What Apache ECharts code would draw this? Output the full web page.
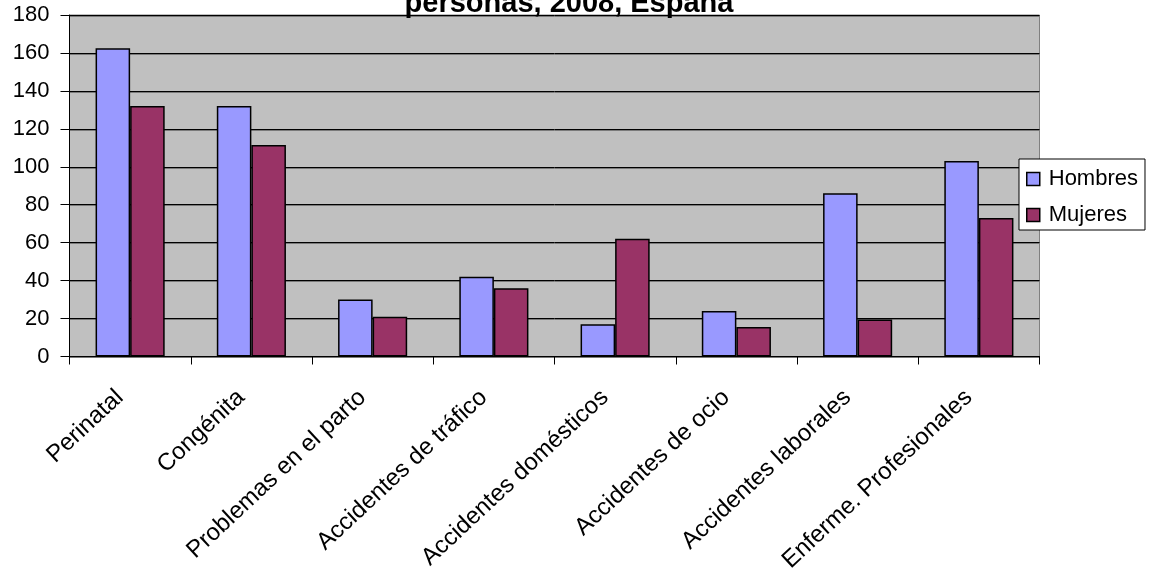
<!DOCTYPE html>
<html>
<head>
<meta charset="utf-8">
<script src="https://cdn.jsdelivr.net/npm/echarts@6/dist/echarts.min.js"></script>
<style>
  html, body { margin: 0; padding: 0; background: #ffffff; }
  #chart { width: 1154px; height: 575px; }
</style>
</head>
<body>
<div id="chart"></div>
<script>
// Causes of disability, per 1000 persons, Spain 2008
const categories = [
  'Perinatal',
  'Congénita',
  'Problemas en el parto',
  'Accidentes de tráfico',
  'Accidentes domésticos',
  'Accidentes de ocio',
  'Accidentes laborales',
  'Enferme. Profesionales'
];
const hombres = [162.5, 132, 30, 42, 17, 24, 86, 103];
const mujeres = [132, 111.5, 21, 36, 62, 15.5, 19.5, 73];
const yTicks = { min: 0, max: 180, interval: 20 };

const font = 'Liberation Sans, Arial, sans-serif';
const barBorder = { borderColor: '#000000', borderWidth: 1.5 };

const chart = echarts.init(document.getElementById('chart'), null, { renderer: 'canvas' });
chart.setOption({
  animation: false,
  backgroundColor: '#ffffff',
  title: {
    text: 'personas, 2008, España',
    left: 569,
    textAlign: 'center',
    top: -11,
    padding: 0,
    textStyle: { fontFamily: font, fontSize: 29, fontWeight: 'bold', color: '#000000' }
  },
  grid: {
    left: 69.5, right: 114.5, top: 15, bottom: 218,
    show: true,
    backgroundColor: '#c0c0c0',
    borderColor: '#808080',
    borderWidth: 1
  },
  legend: {
    orient: 'vertical',
    left: 1019, top: 159,
    padding: [9, 7, 4, 7],
    itemWidth: 13, itemHeight: 13,
    itemGap: 14,
    backgroundColor: '#ffffff',
    borderColor: '#000000',
    borderWidth: 1,
    borderRadius: 0,
    icon: 'rect',
    itemStyle: { borderColor: '#000000', borderWidth: 1.5 },
    textStyle: { fontFamily: font, fontSize: 22, color: '#000000', padding: [0, 0, 0, 4], lineHeight: 22 },
    data: ['Hombres', 'Mujeres']
  },
  xAxis: {
    type: 'category',
    data: categories,
    axisLine: { show: true, lineStyle: { color: '#000000', width: 1 } },
    axisTick: { show: true, length: 8, inside: false, alignWithLabel: false, lineStyle: { color: '#000000' } },
    axisLabel: {
      interval: 0,
      rotate: 43,
      margin: 28,
      padding: [0, 14, 0, 0],
      fontFamily: font,
      fontSize: 24,
      color: '#000000'
    },
    splitLine: { show: false }
  },
  yAxis: {
    type: 'value',
    min: yTicks.min,
    max: yTicks.max,
    interval: yTicks.interval,
    axisLine: { show: true, lineStyle: { color: '#000000', width: 1 } },
    axisTick: { show: true, length: 9, lineStyle: { color: '#000000' } },
    axisLabel: { fontFamily: font, fontSize: 22, color: '#000000', margin: 20, padding: [5, 0, 0, 0] },
    splitLine: {
      show: true,
      lineStyle: { color: '#000000', width: 1, shadowColor: '#7a7a7a', shadowOffsetY: 1, shadowBlur: 0 }
    }
  },
  series: [
    {
      name: 'Hombres',
      type: 'bar',
      data: hombres,
      barGap: '0%',
      barCategoryGap: '43%',
      itemStyle: Object.assign({ color: '#9999ff' }, barBorder)
    },
    {
      name: 'Mujeres',
      type: 'bar',
      data: mujeres,
      barGap: '0%',
      barCategoryGap: '43%',
      itemStyle: Object.assign({ color: '#993366' }, barBorder)
    }
  ]
});
</script>
</body>
</html>
